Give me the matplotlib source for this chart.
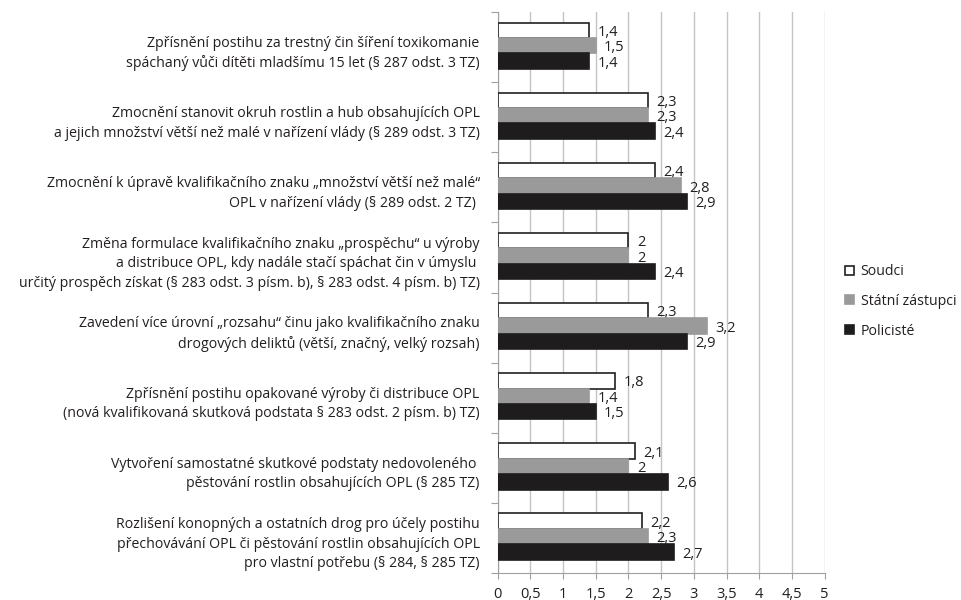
import matplotlib.pyplot as plt
import numpy as np

categories = [
    "Zpřísnění postihu za trestný čin šíření toxikomanie\nspáchaný vůči dítěti mladšímu 15 let (§ 287 odst. 3 TZ)",
    "Zmocnění stanovit okruh rostlin a hub obsahujících OPL\na jejich množství větší než malé v nařízení vlády (§ 289 odst. 3 TZ)",
    "Zmocnění k úpravě kvalifikačního znaku „množství větší než malé“\nOPL v nařízení vlády (§ 289 odst. 2 TZ) ",
    "Změna formulace kvalifikačního znaku „prospěchu“ u výroby\na distribuce OPL, kdy nadále stačí spáchat čin v úmyslu \nurčitý prospěch získat (§ 283 odst. 3 písm. b), § 283 odst. 4 písm. b) TZ)",
    "Zavedení více úrovní „rozsahu“ činu jako kvalifikačního znaku\ndrogových deliktů (větší, značný, velký rozsah)",
    "Zpřísnění postihu opakované výroby či distribuce OPL\n(nová kvalifikovaná skutková podstata § 283 odst. 2 písm. b) TZ)",
    "Vytvoření samostatné skutkové podstaty nedovoleného \npěstování rostlin obsahujících OPL (§ 285 TZ)",
    "Rozlišení konopných a ostatních drog pro účely postihu\npřechovávání OPL či pěstování rostlin obsahujících OPL\npro vlastní potřebu (§ 284, § 285 TZ)",
]
soudci = [1.4, 2.3, 2.4, 2.0, 2.3, 1.8, 2.1, 2.2]
statni_zastupci = [1.5, 2.3, 2.8, 2.0, 3.2, 1.4, 2.0, 2.3]
policiste = [1.4, 2.4, 2.9, 2.4, 2.9, 1.5, 2.6, 2.7]
x_ticks = [0, 0.5, 1, 1.5, 2, 2.5, 3, 3.5, 4, 4.5, 5]

plt.rcParams["font.family"] = ["Open Sans", "DejaVu Sans"]
text_color = "#231f20"


def fmt(v):
    return ("%g" % v).replace(".", ",")


fig = plt.figure(figsize=(9.61, 6.0), dpi=100)
ax = fig.add_axes([0.518, 0.045, 0.34, 0.935])

n = len(categories)
centers = np.arange(n) + 0.5
h = 0.22
series = [
    ("Soudci", soudci, "white", "#231f20", -h),
    ("Státní zástupci", statni_zastupci, "#9a9a9a", "#9a9a9a", 0.0),
    ("Policisté", policiste, "#1e1c1c", "#1e1c1c", h),
]
for name, vals, fc, ec, off in series:
    ys = centers + off - 0.02
    ax.barh(ys, vals, height=h, color=fc, edgecolor=ec, linewidth=1.2,
            label=name, zorder=3)
    for y, v in zip(ys, vals):
        ax.annotate(fmt(v), (v, y + 0.03), xytext=(6, 0), textcoords="offset points",
                    va="center", ha="left", fontsize=10.5, color=text_color)

ax.set_xlim(0, 5)
ax.set_ylim(n, 0)
ax.set_xticks(x_ticks)
ax.set_xticklabels([fmt(t) for t in x_ticks], fontsize=10.5, color=text_color)
ax.set_yticks(np.arange(n + 1))
ax.set_yticklabels([])
ax.set_yticks(centers + 0.03, minor=True)
ax.set_yticklabels(categories, minor=True, fontsize=10.2, color=text_color,
                   linespacing=1.4)
ax.tick_params(axis="y", which="minor", length=0, pad=13)
ax.tick_params(axis="y", which="major", length=5, color="#a0a0a0", direction="out")
ax.tick_params(axis="x", length=4, color="#a0a0a0", pad=6)
ax.grid(axis="x", color="#c4c4c4", linewidth=1, zorder=0)
for s in ["top", "right"]:
    ax.spines[s].set_visible(False)
for s in ["left", "bottom"]:
    ax.spines[s].set_color("#a0a0a0")

leg = ax.legend(loc="center left", bbox_to_anchor=(1.024, 0.484), frameon=False,
                fontsize=10.2, handlelength=0.6, handleheight=0.6,
                handletextpad=0.5, labelspacing=1.05)
for t in leg.get_texts():
    t.set_color(text_color)

fig.savefig("out.png", dpi=100)
